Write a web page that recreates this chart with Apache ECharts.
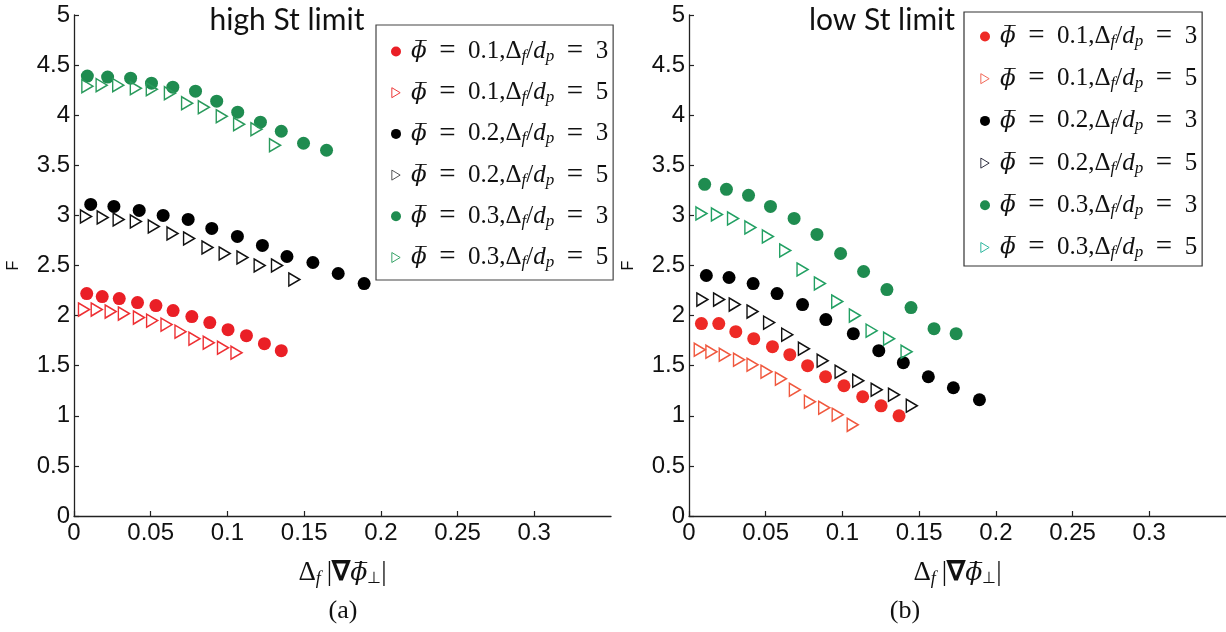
<!DOCTYPE html>
<html>
<head>
<meta charset="utf-8">
<script src="https://cdn.jsdelivr.net/npm/echarts@6/dist/echarts.min.js"></script>
<style>
  html, body { margin: 0; padding: 0; background: #fff; }
  #chart { width: 1226px; height: 632px; }
</style>
</head>
<body>
<div id="chart"></div>
<script>
// ticks
const xTicks = [0, 0.05, 0.1, 0.15, 0.2, 0.25, 0.3]

// (a) high St limit  [x, F]
const aPhi1d3 = [[0.0083,2.22],[0.0184,2.19],[0.0295,2.17],[0.0414,2.13],[0.0534,2.10],[0.0646,2.05],[0.0768,1.99],[0.0885,1.93],[0.1004,1.86],[0.1124,1.80],[0.1241,1.72],[0.1351,1.65]]
const aPhi1d5 = [[0.0065,2.06],[0.0148,2.06],[0.0239,2.04],[0.0325,2.02],[0.0423,1.98],[0.0509,1.95],[0.0603,1.91],[0.0694,1.84],[0.0785,1.77],[0.0878,1.73],[0.0971,1.68],[0.1059,1.63]]
const aPhi2d3 = [[0.0109,3.11],[0.0260,3.09],[0.0425,3.05],[0.0581,3.00],[0.0744,2.96],[0.0898,2.87],[0.1065,2.79],[0.1228,2.70],[0.1388,2.59],[0.1557,2.53],[0.1722,2.42],[0.1891,2.32]]
const aPhi2d5 = [[0.0078,2.99],[0.0187,2.98],[0.0291,2.96],[0.0403,2.94],[0.0520,2.89],[0.0642,2.82],[0.0750,2.77],[0.0870,2.68],[0.0982,2.62],[0.1098,2.58],[0.1210,2.50],[0.1323,2.50],[0.1436,2.36]]
const aPhi3d3 = [[0.0087,4.39],[0.0219,4.38],[0.0369,4.37],[0.0505,4.32],[0.0644,4.28],[0.0792,4.24],[0.0930,4.14],[0.1067,4.03],[0.1215,3.93],[0.1351,3.84],[0.1496,3.72],[0.1646,3.65]]
const aPhi3d5 = [[0.0087,4.29],[0.0180,4.30],[0.0288,4.30],[0.0403,4.27],[0.0507,4.26],[0.0625,4.22],[0.0737,4.12],[0.0846,4.08],[0.0963,3.99],[0.1076,3.91],[0.1189,3.86],[0.1310,3.70]]

// (b) low St limit
const bPhi1d3 = [[0.0081,1.92],[0.0194,1.92],[0.0305,1.84],[0.0422,1.77],[0.0544,1.69],[0.0657,1.61],[0.0773,1.50],[0.0890,1.39],[0.1010,1.30],[0.1132,1.19],[0.1252,1.10],[0.1369,1.00]]
const bPhi1d5 = [[0.0070,1.66],[0.0146,1.64],[0.0233,1.61],[0.0326,1.56],[0.0414,1.51],[0.0505,1.44],[0.0599,1.37],[0.0690,1.26],[0.0788,1.14],[0.0881,1.08],[0.0969,1.01],[0.1067,0.91]]
const bPhi2d3 = [[0.0113,2.40],[0.0261,2.38],[0.0418,2.32],[0.0574,2.22],[0.0740,2.11],[0.0892,1.96],[0.1071,1.82],[0.1237,1.65],[0.1397,1.53],[0.1560,1.39],[0.1723,1.28],[0.1893,1.16]]
const bPhi2d5 = [[0.0087,2.16],[0.0196,2.16],[0.0298,2.11],[0.0414,2.04],[0.0522,1.93],[0.0640,1.81],[0.0749,1.67],[0.0871,1.55],[0.0988,1.44],[0.1103,1.35],[0.1223,1.26],[0.1336,1.21],[0.1452,1.10]]
const bPhi3d3 = [[0.0102,3.31],[0.0244,3.26],[0.0388,3.20],[0.0531,3.09],[0.0685,2.97],[0.0834,2.81],[0.0988,2.62],[0.1138,2.44],[0.1290,2.26],[0.1447,2.08],[0.1597,1.87],[0.1741,1.82]]
const bPhi3d5 = [[0.0081,3.02],[0.0182,3.01],[0.0287,2.97],[0.0400,2.88],[0.0514,2.79],[0.0627,2.65],[0.0740,2.46],[0.0853,2.32],[0.0966,2.14],[0.1081,2.00],[0.1190,1.85],[0.1304,1.77],[0.1418,1.64]]

const TRI = 'path://M0 0L10 6L0 12Z'
const axisFont = 'Liberation Sans'
const mathFont = 'Liberation Serif'
const phiFont = 'DejaVu Serif'

// 图例 / 轴名 的数学文字
const mathRich = {
  i: { fontFamily: mathFont, fontStyle: 'italic', fontSize: 25, color: '#111' },
  f: { fontFamily: phiFont, fontStyle: 'italic', fontSize: 23, color: '#111', padding: [0, 0, 0, 5] },
  eq: { fontFamily: mathFont, fontSize: 29, color: '#111' },
  s: { fontFamily: mathFont, fontStyle: 'italic', fontSize: 17, color: '#111', padding: [10, 0, 0, 0] },
  b: { fontFamily: mathFont, fontWeight: 'bold', fontSize: 27, color: '#111' },
  n: { fontFamily: mathFont, fontSize: 27, color: '#111' },
  big: { fontFamily: phiFont, fontStyle: 'italic', fontSize: 25, color: '#111' },
  bs: { fontFamily: mathFont, fontStyle: 'italic', fontSize: 18, color: '#111', padding: [12, 0, 0, 0] },
  sn: { fontFamily: mathFont, fontSize: 16, color: '#111', padding: [12, 0, 0, 0] },
}
const legendLabel = (name) => {
  const p = name.split(' ')
  return `{f|ϕ̅}\u2002{eq|=}\u2002${p[1]},Δ{s|f}/{i|d}{s|p}\u2002{eq|=}\u2002${p[2]}`
}

const mk = (name, data, idx, kind, color) => {
  const s = {
    name: name,
    type: 'scatter',
    xAxisIndex: idx,
    yAxisIndex: idx,
    data: data,
    emphasis: { disabled: true },
    z: kind === 'tri' ? 3 : 2,
  }
  if (kind === 'dot') {
    s.symbol = 'circle'
    s.symbolSize = 13
    s.itemStyle = { color: color, opacity: 1 }
  } else {
    s.symbol = TRI
    s.symbolSize = [11, 13]
    s.itemStyle = { color: 'rgba(0,0,0,0)', borderColor: color, borderWidth: 1.5, opacity: 1 }
  }
  return s
}

const red = '#ea1f26', green = '#1f8c50', black = '#000'
const series = [
  mk('a 0.1 3', aPhi1d3, 0, 'dot', red),
  mk('a 0.1 5', aPhi1d5, 0, 'tri', '#ee2f33'),
  mk('a 0.2 3', aPhi2d3, 0, 'dot', black),
  mk('a 0.2 5', aPhi2d5, 0, 'tri', '#111'),
  mk('a 0.3 3', aPhi3d3, 0, 'dot', green),
  mk('a 0.3 5', aPhi3d5, 0, 'tri', '#2a9a5c'),
  mk('b 0.1 3', bPhi1d3, 1, 'dot', '#ee2a26'),
  mk('b 0.1 5', bPhi1d5, 1, 'tri', '#f0583e'),
  mk('b 0.2 3', bPhi2d3, 1, 'dot', black),
  mk('b 0.2 5', bPhi2d5, 1, 'tri', '#111'),
  mk('b 0.3 3', bPhi3d3, 1, 'dot', green),
  mk('b 0.3 5', bPhi3d5, 1, 'tri', '#22a063'),
]

const legendItems = (panel, triColors, dotColors) => {
  const out = []
  ;['0.1', '0.2', '0.3'].forEach((phi, k) => {
    out.push({ name: `${panel} ${phi} 3`, icon: 'circle', itemStyle: { color: dotColors[k], borderWidth: 0 } })
    out.push({ name: `${panel} ${phi} 5`, icon: TRI, itemStyle: { color: 'rgba(0,0,0,0)', borderColor: triColors[k], borderWidth: 1 } })
  })
  return out
}

const legendBase = {
  orient: 'vertical',
  itemWidth: 10,
  itemHeight: 10,
  itemGap: 12.2,
  borderColor: '#444',
  borderWidth: 1.2,
  selectedMode: false,
  formatter: legendLabel,
  textStyle: { fontFamily: mathFont, fontSize: 25, color: '#111', lineHeight: 24, rich: mathRich },
}

const xAxisBase = (idx) => ({
  type: 'value',
  gridIndex: idx,
  min: 0,
  max: 0.35,
  interval: 0.05,
  splitLine: { show: false },
  axisLine: { onZero: false, lineStyle: { color: '#222', width: 1.3 } },
  axisTick: { inside: true, length: 5, customValues: xTicks, lineStyle: { color: '#222', width: 1.2 } },
  axisLabel: { customValues: xTicks, fontFamily: axisFont, fontSize: 24, color: '#111', margin: 5 },
  name: '{n|Δ}{bs|f}\u2002{n||}{b|∇}{big|ϕ̅}{sn|⊥}{n||}',
  nameLocation: 'middle',
  nameGap: 42,
  nameTextStyle: { rich: mathRich },
})

const yAxisBase = (idx) => ({
  type: 'value',
  gridIndex: idx,
  min: 0,
  max: 5,
  interval: 0.5,
  splitLine: { show: false },
  axisLine: { onZero: false, lineStyle: { color: '#222', width: 1.3 } },
  axisTick: { inside: true, length: 5, lineStyle: { color: '#222', width: 1.2 } },
  axisLabel: { fontFamily: axisFont, fontSize: 24, color: '#111', margin: 4 },
  name: 'F',
  nameLocation: 'middle',
  nameGap: 52,
  nameTextStyle: { fontFamily: axisFont, fontSize: 16, color: '#111' },
})

const chart = echarts.init(document.getElementById('chart'), null, { renderer: 'canvas' })
chart.setOption({
  animation: false,
  backgroundColor: '#fff',
  title: [
    { text: 'high St limit', left: 282, top: 0, textAlign: 'center', textStyle: { fontFamily: 'Lato', fontSize: 30, fontWeight: 'normal', color: '#111' } },
    { text: 'low St limit', left: 877, top: 0, textAlign: 'center', textStyle: { fontFamily: 'Lato', fontSize: 30, fontWeight: 'normal', color: '#111' } },
    { text: '(a)', left: 338, top: 593, textAlign: 'center', textStyle: { fontFamily: mathFont, fontSize: 26, fontWeight: 'normal', color: '#111' } },
    { text: '(b)', left: 900, top: 593, textAlign: 'center', textStyle: { fontFamily: mathFont, fontSize: 26, fontWeight: 'normal', color: '#111' } },
  ],
  legend: [
    Object.assign({}, legendBase, {
      left: 376, top: 25, padding: [12, 5, 8, 15],
      data: legendItems('a', ['#ee3a3a', '#555', '#3aa56a'], [red, black, green]),
    }),
    Object.assign({}, legendBase, {
      left: 964, top: 12, padding: [10, 5, 4, 16], itemGap: 13.2, borderColor: '#333',
      data: legendItems('b', ['#f26a5a', '#334', '#30b8a0'], ['#ee2a26', black, green]),
    }),
  ],
  grid: [
    { left: 74, top: 15, width: 537, height: 501 },
    { left: 689, top: 15, width: 537, height: 501 },
  ],
  xAxis: [xAxisBase(0), xAxisBase(1)],
  yAxis: [yAxisBase(0), yAxisBase(1)],
  series: series,
})
</script>
</body>
</html>
